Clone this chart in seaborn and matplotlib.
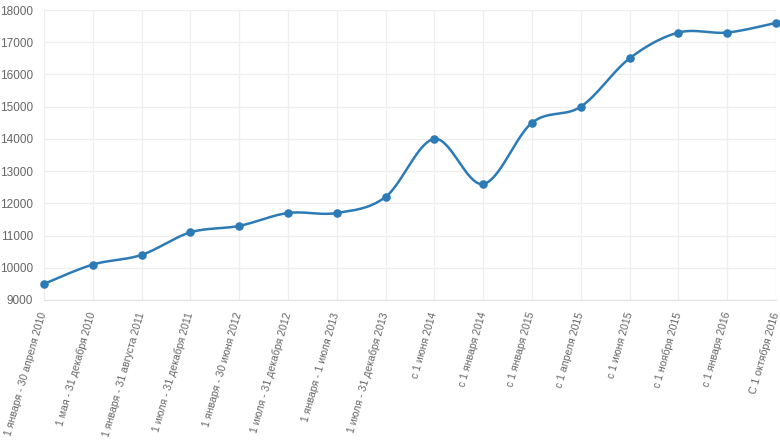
import numpy as np
import pandas as pd
import matplotlib
matplotlib.use("Agg")
import matplotlib.pyplot as plt
import seaborn as sns

categories = [
    "1 января - 30 апреля 2010",
    "1 мая - 31 декабря 2010",
    "1 января - 31 августа 2011",
    "1 июля - 31 декабря 2011",
    "1 января - 30 июня 2012",
    "1 июля - 31 декабря 2012",
    "1 января - 1 июля 2013",
    "1 июля - 31 декабря 2013",
    "с 1 июня 2014",
    "с 1 января 2014",
    "с 1 января 2015",
    "с 1 апреля 2015",
    "с 1 июня 2015",
    "с 1 ноября 2015",
    "с 1 января 2016",
    "С 1 октября 2016",
]
values = [9500, 10100, 10400, 11100, 11300, 11700, 11700, 12200,
          14000, 12600, 14500, 15000, 16500, 17300, 17300, 17600]
y_ticks = [9000, 10000, 11000, 12000, 13000, 14000, 15000, 16000, 17000, 18000]

LINE = "#2c7bb6"

sns.set_style("white")
plt.rcParams["font.family"] = ["Liberation Sans", "DejaVu Sans"]

fig = plt.figure(figsize=(7.8, 4.44), dpi=100)
ax = fig.add_axes([44 / 780, 1 - 300 / 444, (776 - 44) / 780, 290 / 444])

# Cardinal (Catmull-Rom) smoothing of the line through the data points
x = np.arange(len(values), dtype=float)
y = np.array(values, dtype=float)
px = np.concatenate([[x[0]], x, [x[-1]]])
py = np.concatenate([[y[0]], y, [y[-1]]])
sx, sy = [], []
t = np.linspace(0, 1, 40)
for i in range(len(x) - 1):
    p0 = np.array([px[i], py[i]])
    p1 = np.array([px[i + 1], py[i + 1]])
    p2 = np.array([px[i + 2], py[i + 2]])
    p3 = np.array([px[i + 3], py[i + 3]])
    c1 = p1 + (p2 - p0) / 6
    c2 = p2 - (p3 - p1) / 6
    for tt in t:
        b = ((1 - tt) ** 3) * p1 + 3 * ((1 - tt) ** 2) * tt * c1 + 3 * (1 - tt) * tt ** 2 * c2 + tt ** 3 * p2
        sx.append(b[0]); sy.append(b[1])
curve = pd.DataFrame({"x": sx, "y": sy})
pts = pd.DataFrame({"x": x, "y": y})

sns.lineplot(data=curve, x="x", y="y", sort=False, estimator=None, color=LINE, lw=1.8, ax=ax, zorder=3)
sns.scatterplot(data=pts, x="x", y="y", color=LINE, s=38, edgecolor=LINE, linewidth=0, ax=ax, zorder=4, clip_on=False)

ax.set_xlim(0, len(values) - 1)
ax.set_ylim(9000, 18000)
ax.set_yticks(y_ticks)
ax.set_yticklabels([str(v) for v in y_ticks])
ax.set_xticks(x)
ax.set_xticklabels(categories, rotation=74, ha="right", va="center", rotation_mode="anchor", fontsize=7.6)
ax.set_xlabel("")
ax.set_ylabel("")

ax.grid(True, color="#eeeeee", lw=0.9)
ax.set_axisbelow(True)
for s in ["top", "right", "left"]:
    ax.spines[s].set_visible(False)
ax.spines["bottom"].set_color("#e0e0e0")
ax.tick_params(axis="both", length=5, color="#dddddd", labelcolor="#666666", pad=3)
ax.tick_params(axis="y", labelsize=8.5)
ax.tick_params(axis="x", pad=4)

fig.savefig("out.png", dpi=100)
